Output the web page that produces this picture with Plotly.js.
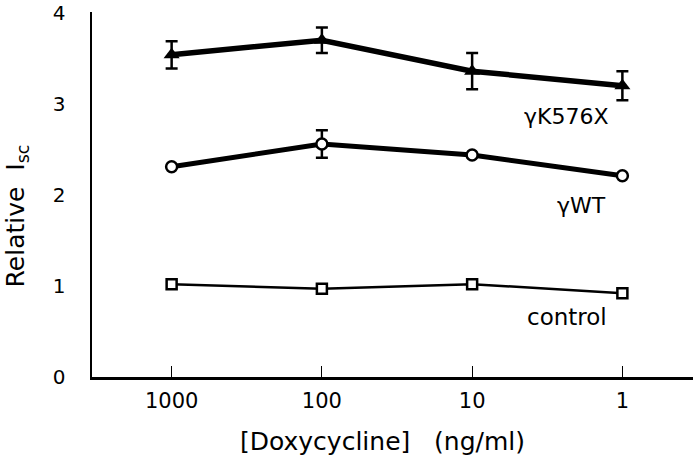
<!DOCTYPE html>
<html>
<head>
<meta charset="utf-8">
<script src="https://cdn.plot.ly/plotly-3.0.1.min.js"></script>
<style>html,body{margin:0;padding:0;background:#fff;}#chart{width:699px;height:467px;}</style>
</head>
<body>
<div id="chart"></div>
<script>
const doses = ['1000', '100', '10', '1'];
const k576xValues = [3.54, 3.70, 3.36, 3.20];
const k576xErrors = [0.15, 0.14, 0.20, 0.16];
const wtValues = [2.31, 2.56, 2.44, 2.21];
const wtErrors = [null, 0.15, null, null];
const controlValues = [1.02, 0.97, 1.02, 0.92];
const seriesLabels = ['γK576X', 'γWT', 'control'];
const yTickVals = [0, 1, 2, 3, 4];

const FONT = 'DejaVu Sans, Arial, sans-serif';

const traces = [
  {
    x: doses, y: controlValues, type: 'scatter', mode: 'lines+markers',
    line: {color: 'black', width: 2.5},
    marker: {symbol: 'square', size: 10, color: 'white', line: {color: 'black', width: 2.5}},
    showlegend: false, cliponaxis: false
  },
  {
    x: doses, y: wtValues, type: 'scatter', mode: 'lines+markers',
    line: {color: 'black', width: 5},
    marker: {symbol: 'circle', size: 11, color: 'white', line: {color: 'black', width: 2.5}},
    error_y: {type: 'data', array: wtErrors, visible: true, color: 'black', thickness: 2.5, width: 6},
    showlegend: false, cliponaxis: false
  },
  {
    x: doses, y: k576xValues, type: 'scatter', mode: 'lines+markers',
    line: {color: 'black', width: 5.5},
    marker: {symbol: 'triangle-up', size: 14, color: 'black'},
    error_y: {type: 'data', array: k576xErrors, visible: true, color: 'black', thickness: 2.5, width: 6},
    showlegend: false, cliponaxis: false
  }
];

const layout = {
  width: 699, height: 467,
  margin: {l: 92, r: 6, t: 12, b: 90},
  paper_bgcolor: 'white', plot_bgcolor: 'white',
  font: {family: FONT, color: 'black'},
  showlegend: false,
  xaxis: {
    type: 'category',
    range: [-0.53, 3.47],
    showgrid: false, zeroline: false,
    showline: true, linecolor: 'black', linewidth: 2.5,
    ticks: 'inside', ticklen: 11, tickwidth: 1, tickcolor: 'black',
    tickfont: {family: FONT, size: 21, color: 'black'},
    ticklabelstandoff: 3,
    fixedrange: true
  },
  yaxis: {
    range: [0, 4.01],
    tickvals: yTickVals,
    ticktext: yTickVals.map(String),
    showgrid: false, zeroline: false,
    showline: true, linecolor: 'black', linewidth: 2.5,
    ticks: '',
    tickfont: {family: FONT, size: 20, color: 'black'},
    ticklabelstandoff: 20,
    fixedrange: true
  },
  annotations: [
    {text: seriesLabels[0], xref: 'x', yref: 'y', x: 2.63, y: 2.86, showarrow: false,
     font: {family: FONT, size: 22, color: 'black'}},
    {text: seriesLabels[1], xref: 'x', yref: 'y', x: 2.73, y: 1.88, showarrow: false,
     font: {family: FONT, size: 22, color: 'black'}},
    {text: seriesLabels[2], xref: 'x', yref: 'y', x: 2.63, y: 0.66, showarrow: false,
     font: {family: FONT, size: 23, color: 'black'}},
    {text: '[Doxycycline]   (ng/ml)', xref: 'paper', yref: 'paper', x: 0.484, y: 0, yshift: -81,
     showarrow: false, font: {family: FONT, size: 25, color: 'black'}},
    {text: 'Relative  I<sub>sc</sub>', xref: 'paper', yref: 'paper', x: 0, xshift: -93, y: 0.44,
     textangle: -90, showarrow: false, font: {family: FONT, size: 25, color: 'black'}}
  ]
};

Plotly.newPlot('chart', traces, layout, {displayModeBar: false, staticPlot: true});
</script>
</body>
</html>
